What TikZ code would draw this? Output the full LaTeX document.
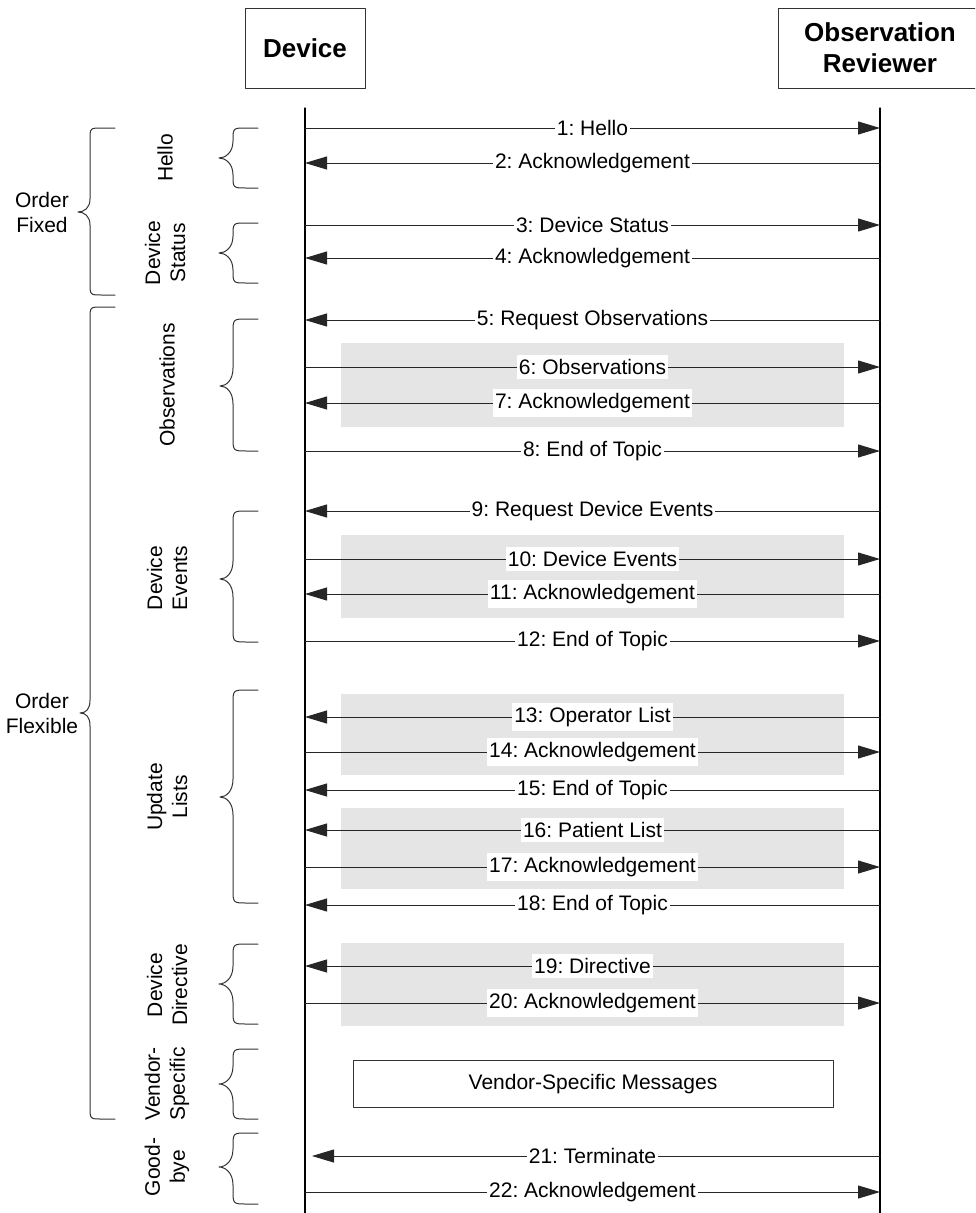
\documentclass[tikz,border=0pt]{standalone}
\usepackage{fontspec}
\setmainfont{Liberation Sans}
\usepackage{tikz}
\usetikzlibrary{calc,arrows.meta,positioning}
\frenchspacing

% left curly bracket: x-end, x-stem, x-tip, y-top, y-tip, y-bottom, corner, tip
\newcommand{\sidebrace}[8]{%
  \draw[bracestyle] (#1,#4) -- ({#2+#7},#4) .. controls (#2,#4) .. (#2,{#4+#7})
    -- (#2,{#5-#8}) .. controls (#2,{#5-0.3*#8}) and ({#3+6},#5) .. (#3,#5)
    .. controls ({#3+6},#5) and (#2,{#5+0.3*#8}) .. (#2,{#5+#8})
    -- (#2,{#6-#7}) .. controls (#2,#6) .. ({#2+#7},#6) -- (#1,#6);
}

\begin{document}
\begin{tikzpicture}[x=1pt, y=-1pt, line cap=round, line join=round,
  lane/.style={line width=1.3pt, black},
  msg/.style={line width=1pt, black!85, -{Triangle[length=22pt,width=13pt]}},
  lbl/.style={fill=white, inner xsep=2pt, inner ysep=4pt, text=black,
              font=\fontsize{21}{25}\selectfont},
  actor/.style={draw=black!80, line width=1pt, align=center, minimum height=80pt,
                font=\fontsize{26}{31}\selectfont\bfseries},
  bracestyle/.style={line width=1pt, black!80},
  grp/.style={rotate=90, align=center, font=\fontsize{21}{25}\selectfont},
  topic/.style={fill=black!10}]

\useasboundingbox (0,0) rectangle (975,1213);
\clip (0,0) rectangle (975,1213);

% ---------------------------------------------------------
% Parameters
% ---------------------------------------------------------
\pgfmathsetmacro{\xD}{305}   % device lifeline
\pgfmathsetmacro{\xR}{880}   % reviewer lifeline
\pgfmathsetmacro{\gL}{341}   % grey band left
\pgfmathsetmacro{\gR}{844}   % grey band right

% ---------------------------------------------------------
% Actors and lifelines
% ---------------------------------------------------------
\node[actor, minimum width=120pt] (dev) at (\xD,48) {Device};
\node[actor, minimum width=204pt] (rev) at (\xR,48) {Observation\\Reviewer};

\coordinate (devTop) at (\xD,108);
\coordinate (devBot) at (\xD,1213);
\coordinate (revTop) at (\xR,108);
\coordinate (revBot) at (\xR,1213);

% ---------------------------------------------------------
% Grey bands (message pairs)
% ---------------------------------------------------------
\fill[topic] (\gL,343) rectangle (\gR,427);
\fill[topic] (\gL,535) rectangle (\gR,618);
\fill[topic] (\gL,694) rectangle (\gR,775);
\fill[topic] (\gL,808) rectangle (\gR,889);
\fill[topic] (\gL,943) rectangle (\gR,1026);

\draw[lane] (devTop) -- (devBot);
\draw[lane] (revTop) -- (revBot);

% ---------------------------------------------------------
% Message end points
% ---------------------------------------------------------
\foreach \i/\y in {1/128,2/163,3/225,4/258,5/320,6/367,7/403,8/451,
                   9/511,10/559,11/594,12/641,13/717,14/752,15/790,
                   16/830,17/867,18/905,19/966,20/1003,21/1156,22/1192}{
  \coordinate (d\i) at (\xD,\y);
  \coordinate (r\i) at (\xR,\y);
}

% ---------------------------------------------------------
% Messages
% ---------------------------------------------------------
% Hello / device status
\draw[msg] (d1) -- node[lbl] (m1) {1: Hello} (r1);
\draw[msg] (r2) -- node[lbl] (m2) {2: Acknowledgement} (d2);
\draw[msg] (d3) -- node[lbl] (m3) {3: Device Status} (r3);
\draw[msg] (r4) -- node[lbl] (m4) {4: Acknowledgement} (d4);

% Observations
\draw[msg] (r5) -- node[lbl] (m5) {5: Request Observations} (d5);
\draw[msg] (d6) -- node[lbl] (m6) {6: Observations} (r6);
\draw[msg] (r7) -- node[lbl] (m7) {7: Acknowledgement} (d7);
\draw[msg] (d8) -- node[lbl] (m8) {8: End of Topic} (r8);

% Device events
\draw[msg] (r9) -- node[lbl] (m9) {9: Request Device Events} (d9);
\draw[msg] (d10) -- node[lbl] (m10) {10: Device Events} (r10);
\draw[msg] (r11) -- node[lbl] (m11) {11: Acknowledgement} (d11);
\draw[msg] (d12) -- node[lbl] (m12) {12: End of Topic} (r12);

% Update lists
\draw[msg] (r13) -- node[lbl] (m13) {13: Operator List} (d13);
\draw[msg] (d14) -- node[lbl] (m14) {14: Acknowledgement} (r14);
\draw[msg] (r15) -- node[lbl] (m15) {15: End of Topic} (d15);
\draw[msg] (r16) -- node[lbl] (m16) {16: Patient List} (d16);
\draw[msg] (d17) -- node[lbl] (m17) {17: Acknowledgement} (r17);
\draw[msg] (r18) -- node[lbl] (m18) {18: End of Topic} (d18);

% Directive
\draw[msg] (r19) -- node[lbl] (m19) {19: Directive} (d19);
\draw[msg] (d20) -- node[lbl] (m20) {20: Acknowledgement} (r20);

% Vendor-specific
\node[draw=black!80, line width=1pt, minimum width=480pt, minimum height=47pt,
      font=\fontsize{21}{25}\selectfont] (vendor) at (593,1084) {Vendor-Specific Messages};

% Good-bye
\draw[msg, shorten >=7pt] (r21) -- node[lbl] (m21) {21: Terminate} (d21);
\draw[msg] (d22) -- node[lbl] (m22) {22: Acknowledgement} (r22);

% ---------------------------------------------------------
% Phase brackets
% ---------------------------------------------------------
\sidebrace{258}{233}{219}{128}{158}{188}{13}{17}
\sidebrace{258}{233}{219}{223}{253}{283}{13}{17}
\sidebrace{258}{233}{220}{319}{386}{451}{14}{18}
\sidebrace{258}{233}{220}{511}{579}{642}{14}{18}
\sidebrace{258}{233}{220}{690}{797}{903}{14}{18}
\sidebrace{258}{233}{219}{944}{984}{1024}{14}{18}
\sidebrace{258}{233}{219}{1049}{1084}{1119}{14}{18}
\sidebrace{258}{233}{219}{1133}{1167}{1204}{14}{18}

\node[grp] (gHello)  at (165,158)  {Hello};
\node[grp] (gStatus) at (165,253)  {Device\\Status};
\node[grp] (gObs)    at (167,385)  {Observations};
\node[grp] (gEvents) at (167,578)  {Device\\Events};
\node[grp] (gLists)  at (167,797)  {Update\\Lists};
\node[grp] (gDirect) at (167,985)  {Device\\Directive};
\node[grp] (gVendor) at (167,1084) {Vendor-\\Specific};
\node[grp] (gBye)    at (167,1167) {Good-\\bye};

% ---------------------------------------------------------
% Order brackets
% ---------------------------------------------------------
\sidebrace{115}{90}{78}{128}{212}{295}{12}{13}
\sidebrace{115}{90}{80}{307}{713}{1119}{12}{13}

\node[align=center, font=\fontsize{21}{25}\selectfont] (fixed) at (42,212) {Order\\Fixed};
\node[align=center, font=\fontsize{21}{25}\selectfont] (flex)  at (42,713) {Order\\Flexible};

\end{tikzpicture}
\end{document}
